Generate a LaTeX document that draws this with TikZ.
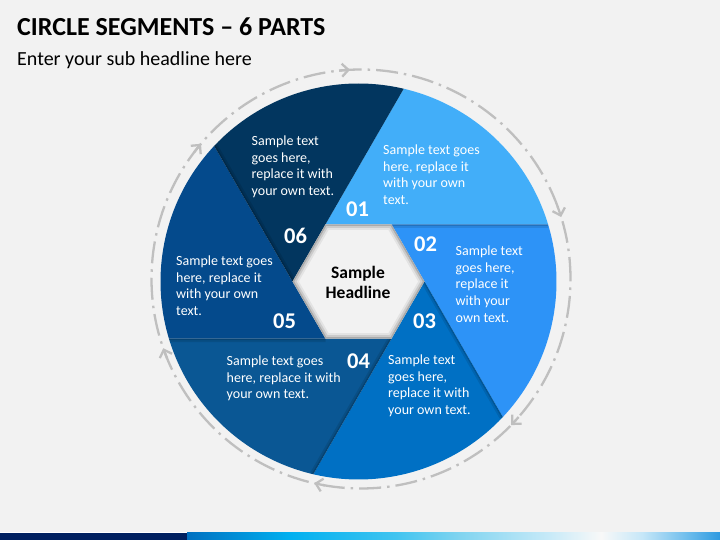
\documentclass[tikz,border=0pt]{standalone}
\usepackage{fontspec}
\setmainfont{Carlito}
\usetikzlibrary{arrows.meta}
\definecolor{bg}{HTML}{F2F2F2}
\definecolor{cA}{HTML}{42AEF9}
\definecolor{cB}{HTML}{2D93F7}
\definecolor{cC}{HTML}{0070C4}
\definecolor{cD}{HTML}{0A5794}
\definecolor{cE}{HTML}{044A8C}
\definecolor{cF}{HTML}{02365F}
\definecolor{ringgray}{HTML}{BFBFBF}
\definecolor{navy}{HTML}{002060}
\definecolor{bA}{HTML}{0070C0}
\definecolor{bB}{HTML}{00B0F0}
\definecolor{bC}{HTML}{40C4F0}
\definecolor{bD}{HTML}{80D4F0}
\definecolor{bE}{HTML}{C8EAF8}
\definecolor{bF}{HTML}{F8F8F8}
\definecolor{bG}{HTML}{C6E7F8}
\definecolor{bH}{HTML}{6CBCEC}
\definecolor{bI}{HTML}{2E9AE0}
\begin{document}
\begin{tikzpicture}[x=1pt,y=1pt,
  txt/.style={text=white, font=\fontsize{14}{16.7}\selectfont, align=left, anchor=north west, inner sep=0pt},
  num/.style={text=white, font=\fontsize{22.5}{24}\selectfont\bfseries, anchor=base, inner sep=0pt},
  ring/.style={draw=ringgray, line width=2.3pt, dash pattern=on 22pt off 6pt on 2.5pt off 6pt},
  arrowbit/.style={draw=ringgray, line width=2.3pt, -{Straight Barb[length=6.5pt,width=13pt]}},
  shade1/.style={line width=7pt, black, opacity=0.10},
  shade2/.style={line width=3pt, black, opacity=0.14}]
\useasboundingbox (0,0) rectangle (720,540);
\fill[bg] (0,0) rectangle (720,540);

% title
\node[anchor=base west, inner sep=0pt, font=\fontsize{26}{30}\selectfont\bfseries] (title) at (17,504) {CIRCLE SEGMENTS – 6 PARTS};
\node[anchor=base west, inner sep=0pt, font=\fontsize{20}{24}\selectfont] (sub) at (17,474.3) {Enter your sub headline here};

% dashed ring
\coordinate (ringc) at (361,261);
\draw[ring] (ringc) circle (209.5);
\foreach \t in {93,17.2,-44.2,-102.9,-160.7,139.8}{
  \draw[arrowbit] (ringc) ++(\t+3:209.5) arc[start angle=\t+3, end angle=\t, radius=209.5];
}

% segments
\begin{scope}[shift={(358.5,258.5)}]
  \foreach \k in {0,...,5}{
    \coordinate (V\k) at (120-60*\k:66);
    \coordinate (E\k) at (76.8-60*\k:198);
  }
  \foreach \k/\col in {0/cA,1/cB,2/cC,3/cD,4/cE,5/cF}{
    \pgfmathsetmacro{\a}{76.8-60*\k}
    \fill[\col] (120-60*\k:66) -- (\a:198) arc[start angle=\a, end angle=\a-60, radius=198] -- cycle;
  }
  % shadows on leading edges
  \foreach \k in {1,2,3,5}{
    \pgfmathsetmacro{\a}{76.8-60*\k}
    \begin{scope}
      \clip (120-60*\k:66) -- (\a:198) arc[start angle=\a, end angle=\a-60, radius=198] -- cycle;
      \draw[shade1] (V\k) -- (E\k);
      \draw[shade2] (V\k) -- (E\k);
    \end{scope}
  }
  \begin{scope}
    \clip (V3) -- (E3) arc[start angle=-103.2, end angle=-163.2, radius=198] -- cycle;
    \draw[shade1] (V4) -- (E4);
    \draw[shade2] (V4) -- (E4);
  \end{scope}
  % hexagon
  \fill[bg] (V0) -- (V1) -- (V2) -- (V3) -- (V4) -- (V5) -- cycle;
  \begin{scope}
    \clip (V0) -- (V1) -- (V2) -- (V3) -- (V4) -- (V5) -- cycle;
    \draw[line width=11pt, black, opacity=0.06] (V0) -- (V1) -- (V2) -- (V3) -- (V4) -- (V5) -- cycle;
    \draw[line width=7pt, black, opacity=0.10] (V0) -- (V1) -- (V2) -- (V3) -- (V4) -- (V5) -- cycle;
    \draw[line width=3pt, black, opacity=0.16] (V0) -- (V1) -- (V2) -- (V3) -- (V4) -- (V5) -- cycle;
  \end{scope}
\end{scope}

% center text
\node[align=center, inner sep=0pt, font=\fontsize{17.5}{20}\selectfont\bfseries] (head) at (358,258) {Sample\\Headline};

% numbers
\node[num] (n1) at (357.5,323.3) {01};
\node[num] (n2) at (425.5,288) {02};
\node[num] (n3) at (424.5,211) {03};
\node[num] (n4) at (358.5,171) {04};
\node[num] (n5) at (284.5,211) {05};
\node[num] (n6) at (295.5,296) {06};

% segment texts
\node[txt] (t1) at (383,395.5) {Sample text goes\\here, replace it\\with your own\\text.};
\node[txt] (t2) at (455.5,294.5) {Sample text\\goes here,\\replace it\\with your\\own text.};
\node[txt] (t3) at (388,185.5) {Sample text\\goes here,\\replace it with\\your own text.};
\node[txt] (t4) at (226.5,184.5) {Sample text goes\\here, replace it with\\your own text.};
\node[txt] (t5) at (176,284.5) {Sample text goes\\here, replace it\\with your own\\text.};
\node[txt] (t6) at (251.5,404.5) {Sample text\\goes here,\\replace it with\\your own text.};

% bottom bar
\fill[white] (0,7) rectangle (720,8);
\fill[navy] (0,0) rectangle (187,7);
\shade[left color=bA, right color=bB] (187,0) rectangle (290,7);
\shade[left color=bB, right color=bC] (290,0) rectangle (395,7);
\shade[left color=bC, right color=bD] (395,0) rectangle (459,7);
\shade[left color=bD, right color=bE] (459,0) rectangle (550,7);
\shade[left color=bE, right color=bF] (550,0) rectangle (601,7);
\shade[left color=bF, right color=bG] (601,0) rectangle (642,7);
\shade[left color=bG, right color=bH] (642,0) rectangle (688,7);
\shade[left color=bH, right color=bI] (688,0) rectangle (720,7);
\end{tikzpicture}
\end{document}
